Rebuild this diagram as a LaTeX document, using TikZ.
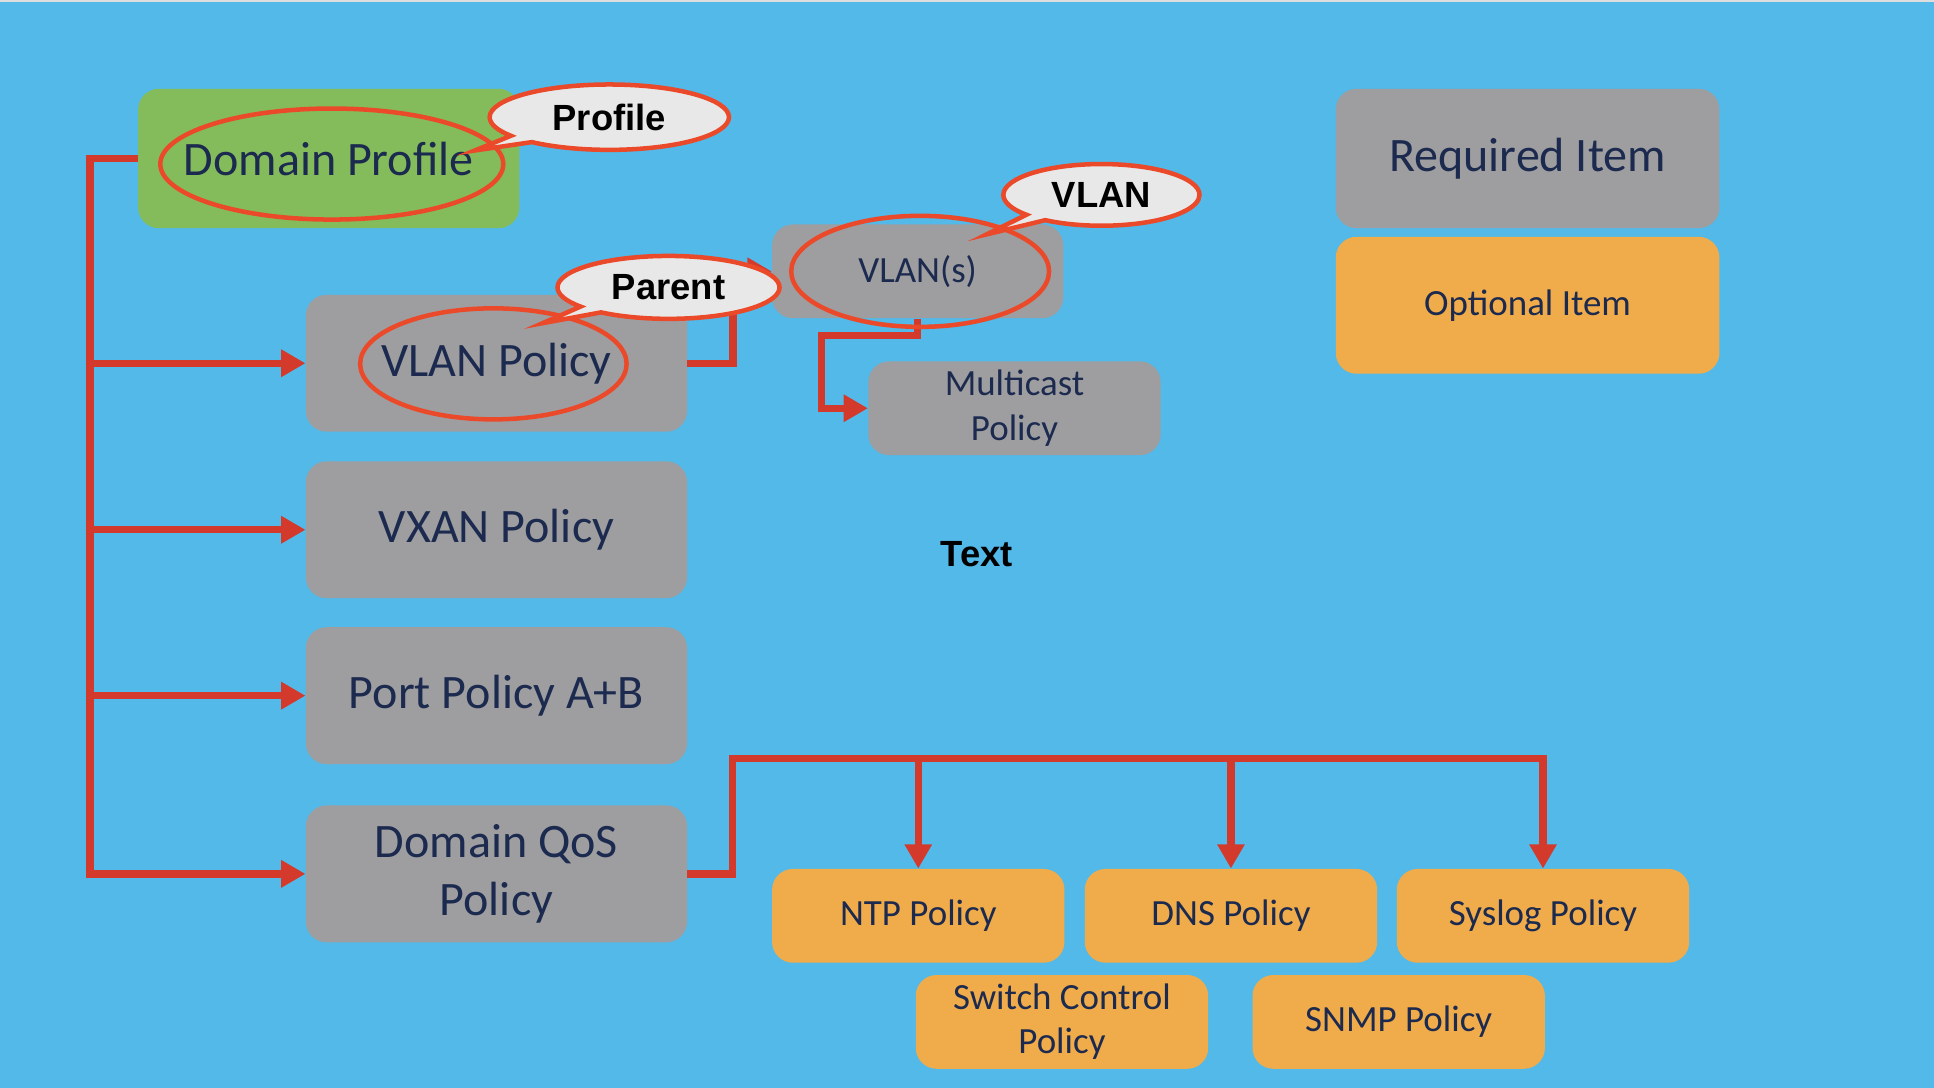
\documentclass[tikz,border=0pt]{standalone}
\usepackage{fontspec}
\setmainfont{Carlito}
\newfontfamily\calloutfont{Liberation Sans}
\usetikzlibrary{shapes.geometric,shapes.callouts,arrows.meta}
\definecolor{bgblue}{RGB}{82,185,232}
\definecolor{boxgray}{RGB}{158,158,160}
\definecolor{boxgreen}{RGB}{132,188,91}
\definecolor{boxorange}{RGB}{240,172,74}
\definecolor{linkred}{RGB}{211,58,44}
\definecolor{ringred}{RGB}{235,74,42}
\definecolor{bubblegray}{RGB}{232,232,232}
\definecolor{navytext}{RGB}{27,42,78}
\newcommand{\bigtxt}{\fontsize{27.7}{33.2}\selectfont}
\newcommand{\smalltxt}{\fontsize{21.3}{25.6}\selectfont}
\newcommand{\tagtxt}{\calloutfont\bfseries\fontsize{21}{25}\selectfont}

\begin{document}
\begin{tikzpicture}[x=0.025cm, y=-0.025cm,
    item/.style={rectangle, rounded corners=12pt, text=navytext, align=center, inner sep=0pt},
    bigitem/.style={item, minimum width=7.725cm, minimum height=2.775cm, font=\bigtxt},
    smallitem/.style={item, minimum width=5.925cm, minimum height=1.9cm, font=\smalltxt},
    ring/.style={ellipse, draw=ringred, line width=2.6pt, inner sep=0pt},
    bubble/.style={ellipse callout, draw=ringred, fill=bubblegray, line width=2.6pt, font=\tagtxt, inner sep=0pt},
    link/.style={draw=linkred, line width=4.2pt},
    arr/.style={link, -{Triangle[length=14pt, width=15pt]}}]
    % Background
    \fill[bgblue] (0,0) rectangle (1568,882);
    \fill[black!13] (0,0) rectangle (1568,2);

    % Profile and its policies
    \node[bigitem, fill=boxgreen, minimum height=2.825cm] (dom-profile) at (266.5,128.5) {Domain Profile};
    \node[bigitem, fill=boxgray] (vlan-pol) at (402.5,294.5) {VLAN Policy};
    \node[bigitem, fill=boxgray] (vxan-pol) at (402.5,429.5) {VXAN Policy};
    \node[bigitem, fill=boxgray] (port-pol) at (402.5,564) {Port Policy A+B};
    \node[bigitem, fill=boxgray] (qos-pol) at (402.5,708.5) {Domain QoS\\Policy};

    % VLAN branch
    \node[smallitem, fill=boxgray, minimum width=5.9cm] (vlans) at (744,220) {VLAN(s)};
    \node[smallitem, fill=boxgray] (mcast-pol) at (822.5,331) {Multicast\\Policy};

    % QoS branch
    \node[smallitem, fill=boxorange] (ntp-pol) at (744.5,742.5) {NTP Policy};
    \node[smallitem, fill=boxorange] (dns-pol) at (998,742.5) {DNS Policy};
    \node[smallitem, fill=boxorange] (syslog-pol) at (1251,742.5) {Syslog Policy};
    \node[smallitem, fill=boxorange] (switch-pol) at (861,828.5) {Switch Control\\Policy};
    \node[smallitem, fill=boxorange] (snmp-pol) at (1134,828.5) {SNMP Policy};

    % Legend
    \node[bigitem, fill=boxgray, minimum width=7.775cm, minimum height=2.825cm] (req-item) at (1238.5,128.5) {Required Item};
    \node[bigitem, fill=boxorange, minimum width=7.775cm, font=\smalltxt] (opt-item) at (1238.5,247.5) {Optional Item};

    \node[font=\tagtxt] (free-text) at (792,449) {Text};

    % Connectors
    \coordinate (left-bus) at (73,128.5);
    \draw[arr] (dom-profile.west) -- (left-bus) |- (qos-pol.west);
    \draw[arr] (left-bus |- vlan-pol.west) -- (vlan-pol.west);
    \draw[arr] (left-bus |- vxan-pol.west) -- (vxan-pol.west);
    \draw[arr] (left-bus |- port-pol.west) -- (port-pol.west);

    \draw[arr] (vlan-pol.east) -- ++(37,0) |- (vlans.west);
    \coordinate (mcast-bend) at (666,272);
    \draw[arr] (vlans.south) |- (mcast-bend) |- (mcast-pol.west);

    \coordinate (qos-bus) at (594,615);
    \draw[arr] (qos-pol.east) -| (qos-bus) -| (syslog-pol.north);
    \draw[arr] (ntp-pol.north |- qos-bus) -- (ntp-pol.north);
    \draw[arr] (dns-pol.north |- qos-bus) -- (dns-pol.north);

    % Highlight rings
    \node[ring, minimum width=6.95cm, minimum height=2.25cm] (dom-ring) at (269,133) {};
    \node[ring, minimum width=5.4cm, minimum height=2.25cm] (vlan-ring) at (400,295) {};
    \node[ring, minimum width=5.225cm, minimum height=2.25cm] (vlans-ring) at (746,220) {};

    % Tags
    \node[bubble, minimum width=4.85cm, minimum height=1.325cm, callout absolute pointer={(385,122)}] (profile-tag) at (494,95) {Profile};
    \node[bubble, minimum width=4.5cm, minimum height=1.275cm, callout absolute pointer={(440,262)}] (parent-tag) at (542,233) {Parent};
    \node[bubble, minimum width=3.975cm, minimum height=1.25cm, callout absolute pointer={(800,190)}] (vlan-tag) at (893,158) {VLAN};
\end{tikzpicture}
\end{document}
